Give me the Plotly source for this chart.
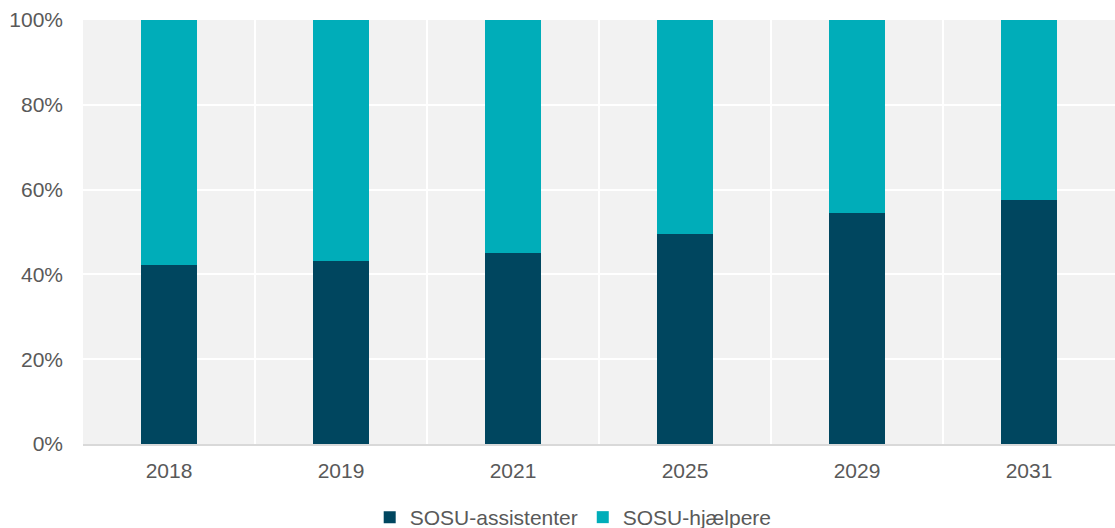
import plotly.graph_objects as go

years = ["2018", "2019", "2021", "2025", "2029", "2031"]
assistenter = [42.3, 43.2, 45.0, 49.5, 54.6, 57.5]
hjaelpere = [round(100 - v, 1) for v in assistenter]

dark = "#00465F"
teal = "#00ADB9"
txt = "#595959"
font_family = "Liberation Sans, Arial, sans-serif"

fig = go.Figure()
fig.add_trace(go.Bar(x=years, y=assistenter, name="SOSU-assistenter",
                     marker=dict(color=dark, line=dict(width=0))))
fig.add_trace(go.Bar(x=years, y=hjaelpere, name="SOSU-hjælpere",
                     marker=dict(color=teal, line=dict(width=0))))

fig.update_layout(
    barmode="stack",
    bargap=0.68,
    width=1115, height=528,
    margin=dict(l=83, r=0, t=20, b=84, autoexpand=False),
    paper_bgcolor="white",
    plot_bgcolor="#F2F2F2",
    font=dict(family=font_family, size=21, color=txt),
    showlegend=True,
    legend=dict(orientation="h", x=0.475, xanchor="center", y=-0.125, yanchor="top",
                font=dict(size=21, color=txt), itemwidth=30, traceorder="normal"),
    xaxis=dict(type="category", tickson="boundaries", showgrid=True,
               gridcolor="white", gridwidth=2, ticks="", showline=True,
               linecolor="#D9D9D9", linewidth=2, ticklabelstandoff=7,
               tickfont=dict(size=21, color=txt)),
    yaxis=dict(range=[0, 100], dtick=20, ticksuffix="%", showgrid=True,
               gridcolor="white", gridwidth=2, zeroline=False, ticks="",
               ticklabelstandoff=19, tickfont=dict(size=21, color=txt)),
)

fig.write_html("out.html")
